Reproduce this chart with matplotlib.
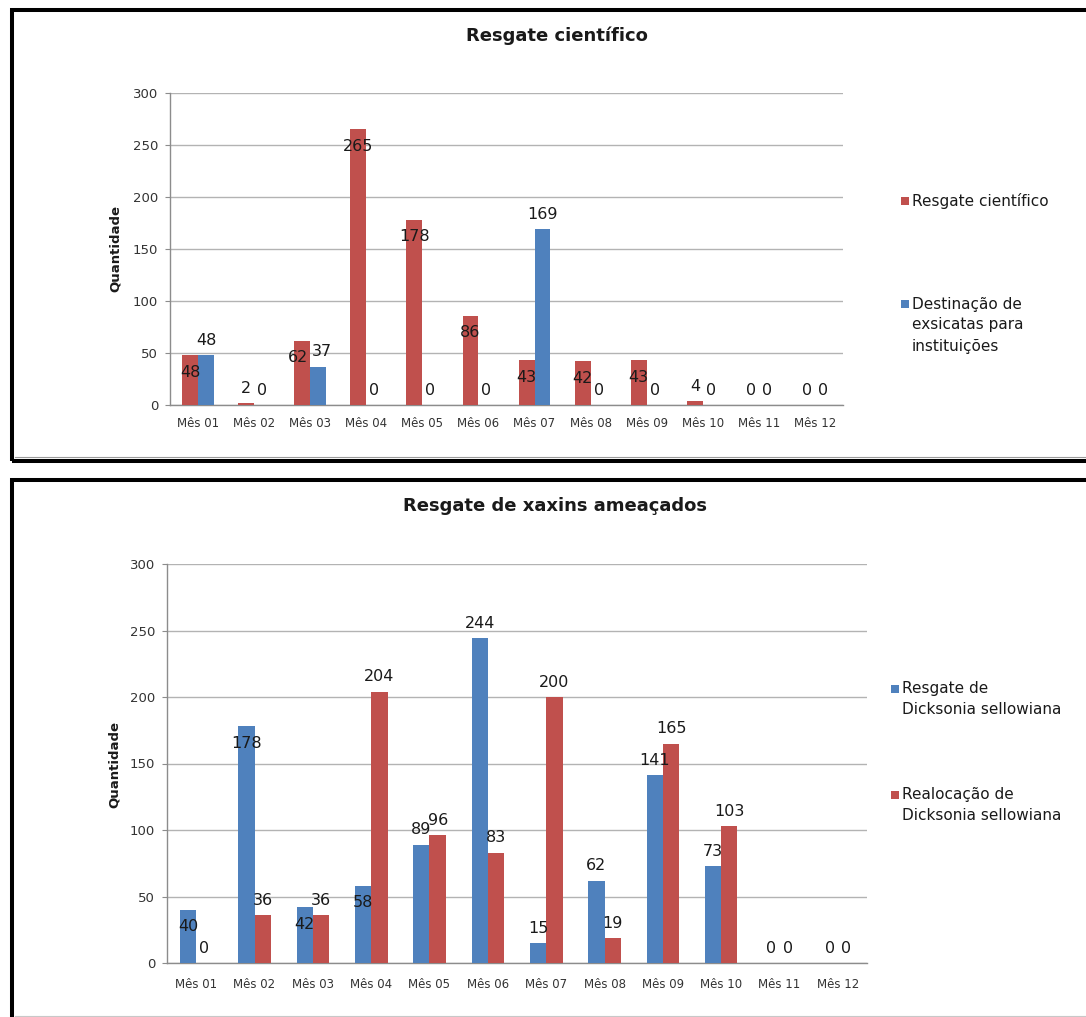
import matplotlib
matplotlib.use("Agg")
import matplotlib.pyplot as plt
from matplotlib.patches import Rectangle
from matplotlib.lines import Line2D
import numpy as np

W, H = 1086, 1017

months = ["Mês 01", "Mês 02", "Mês 03", "Mês 04", "Mês 05", "Mês 06",
          "Mês 07", "Mês 08", "Mês 09", "Mês 10", "Mês 11", "Mês 12"]
y_ticks = [0, 50, 100, 150, 200, 250, 300]
y_label = "Quantidade"

# Panel 1: scientific rescue
sci_title = "Resgate científico"
sci_rescue = [48, 2, 62, 265, 178, 86, 43, 42, 43, 4, 0, 0]
sci_specimens = [48, 0, 37, 0, 0, 0, 169, 0, 0, 0, 0, 0]
sci_names = ["Resgate científico", "Destinação de\nexsicatas para\ninstituições"]

# Panel 2: threatened tree ferns
fern_title = "Resgate de xaxins ameaçados"
fern_rescue = [40, 178, 42, 58, 89, 244, 15, 62, 141, 73, 0, 0]
fern_relocation = [0, 36, 36, 204, 96, 83, 200, 19, 165, 103, 0, 0]
fern_names = ["Resgate de\nDicksonia sellowiana", "Realocação de\nDicksonia sellowiana"]

# where each value label sits: inside the bar end (True) or above it (False)
sci_rescue_in = [True, False, True, True, True, True, True, True, True, False, False, False]
sci_specimens_in = [False] * 12
fern_rescue_in = [True, True, True, True, False, False, False, False, False, False, False, False]
fern_relocation_in = [False] * 12

# small sideways nudges (points) for crowded label pairs
sci_rescue_dx = [0, 0, -3, 0, 0, 0, 0, 0, 0, 0, 0, 0]
sci_specimens_dx = [0, 0, 3, 0, 0, 0, 0, 0, 0, 0, 0, 0]
zero_dx = [0] * 12

RED = "#C0504D"
BLUE = "#4F81BD"
GRID = "#B3B3B3"
TXT = "#1a1a1a"

plt.rcParams["font.family"] = ["DejaVu Sans"]

fig = plt.figure(figsize=(W / 100, H / 100), dpi=100)
fig.patch.set_facecolor("white")


def px_rect(l, t, r, b):
    return [l / W, 1 - b / H, (r - l) / W, (b - t) / H]


def fx(x):
    return x / W


def fy(y):
    return 1 - y / H


def draw_panel(rect, series, colors, inside, nudges, bar_w, xpad):
    ax = fig.add_axes(px_rect(*rect))
    x = np.arange(len(months))
    offsets = [-bar_w / 2, bar_w / 2]
    for vals, col, ins, dxs, off in zip(series, colors, inside, nudges, offsets):
        ax.bar(x + off, vals, width=bar_w, color=col, zorder=3, linewidth=0)
        for xi, v, inn, dx in zip(x + off, vals, ins, dxs):
            dy = -12.3 if inn else 10.6
            ax.annotate(str(v), xy=(xi, v), xytext=(dx, dy),
                        textcoords="offset points", ha="center", va="center",
                        fontsize=11.5, color=TXT, zorder=5)
    ax.set_xlim(-0.5, len(months) - 0.5)
    ax.set_ylim(0, 300)
    ax.set_yticks(y_ticks)
    ax.set_xticks(x)
    ax.set_xticklabels(months)
    ax.yaxis.grid(True, color=GRID, linewidth=1.0, zorder=0)
    ax.set_axisbelow(True)
    for s in ["top", "right"]:
        ax.spines[s].set_visible(False)
    for s in ["left", "bottom"]:
        ax.spines[s].set_color("#8C8C8C")
        ax.spines[s].set_linewidth(1.0)
    ax.tick_params(axis="y", length=3.5, width=0.8, color="#8C8C8C",
                   labelsize=9.5, labelcolor="#333333", pad=5)
    ax.tick_params(axis="x", length=0, labelsize=8.5, labelcolor="#333333", pad=xpad)
    return ax


def legend_entry(x, y, color, text, line_h, size=11):
    fig.add_artist(Rectangle((fx(x - 11), fy(y + 4)), 8 / W, 8 / H,
                             transform=fig.transFigure, color=color, lw=0))
    for i, line in enumerate(text.split("\n")):
        fig.text(fx(x), fy(y + i * line_h), line, ha="left", va="center",
                 fontsize=size, color=TXT)


# Panel frames
fig.add_artist(Rectangle((fx(11.5), fy(460.5)), (1200 - 11.5) / W, (460.5 - 10) / H,
                         transform=fig.transFigure, fill=False, ec="black", lw=2.9))
fig.add_artist(Rectangle((fx(11.5), fy(1100)), (1200 - 11.5) / W, (1100 - 480) / H,
                         transform=fig.transFigure, fill=False, ec="black", lw=2.9))
fig.add_artist(Line2D([fx(15), fx(1086)], [fy(456.5), fy(456.5)],
                      transform=fig.transFigure, color="#9a9a9a", lw=0.8))
fig.add_artist(Line2D([fx(15), fx(1086)], [fy(1015.5), fy(1015.5)],
                      transform=fig.transFigure, color="#c8c8c8", lw=0.8))

# Top panel
draw_panel((170, 93, 843, 405), [sci_rescue, sci_specimens], [RED, BLUE],
           [sci_rescue_in, sci_specimens_in], [sci_rescue_dx, sci_specimens_dx],
           0.284, 8.5)
fig.text(fx(557), fy(36), sci_title, ha="center", va="center",
         fontsize=13, fontweight="bold", color=TXT)
fig.text(fx(115), fy(249), y_label, ha="center", va="center", rotation=90,
         fontsize=9.5, fontweight="bold", color=TXT)
legend_entry(912, 201, RED, sci_names[0], 21)
legend_entry(912, 304, BLUE, sci_names[1], 21)

# Bottom panel
draw_panel((167, 564, 867, 963), [fern_rescue, fern_relocation], [BLUE, RED],
           [fern_rescue_in, fern_relocation_in], [zero_dx, zero_dx], 0.28, 11)
fig.text(fx(555), fy(506), fern_title, ha="center", va="center",
         fontsize=13, fontweight="bold", color=TXT)
fig.text(fx(114), fy(765), y_label, ha="center", va="center", rotation=90,
         fontsize=9.5, fontweight="bold", color=TXT)
legend_entry(902, 689, BLUE, fern_names[0], 21)
legend_entry(902, 795, RED, fern_names[1], 21)

fig.savefig("out.png", dpi=100, facecolor="white")
